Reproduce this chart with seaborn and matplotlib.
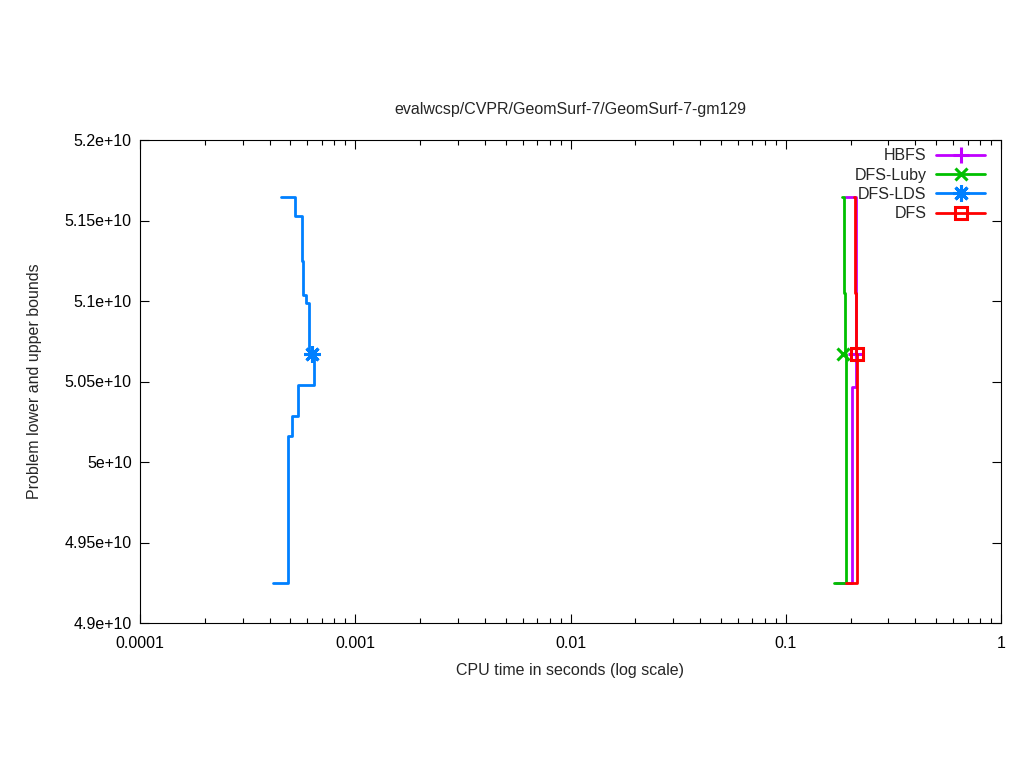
import numpy as np
import pandas as pd
import matplotlib
matplotlib.use("Agg")
import matplotlib.pyplot as plt
from matplotlib.lines import Line2D
from matplotlib.ticker import FixedLocator, LogLocator, NullFormatter
import seaborn as sns

# Data (time in seconds, bounds)
hbfs_up_t = [0.1892, 0.2121]
hbfs_up_v = [5.1645e10, 5.0671e10]
hbfs_lo_t = [0.1712, 0.2032, 0.2121]
hbfs_lo_v = [4.9247e10, 5.0463e10, 5.0671e10]
hbfs_opt = (0.2121, 5.0671e10)

luby_up_t = [0.1826, 0.1865, 0.1892]
luby_up_v = [5.1645e10, 5.1048e10, 5.0671e10]
luby_lo_t = [0.1676, 0.1906]
luby_lo_v = [4.9247e10, 5.0671e10]
luby_opt = (0.1851, 5.0671e10)

lds_up_t = [4.52e-4, 5.25e-4, 5.64e-4, 5.74e-4, 5.91e-4, 6.12e-4]
lds_up_v = [5.1645e10, 5.153e10, 5.1248e10, 5.1037e10, 5.0989e10, 5.0673e10]
lds_lo_t = [4.16e-4, 4.87e-4, 5.10e-4, 5.44e-4, 6.45e-4]
lds_lo_v = [4.9247e10, 5.0161e10, 5.0286e10, 5.0478e10, 5.0673e10]
lds_opt = (6.28e-4, 5.0673e10)

dfs_up_t = [0.2085, 0.2091, 0.2121]
dfs_up_v = [5.1645e10, 5.1048e10, 5.0671e10]
dfs_lo_t = [0.1906, 0.2150]
dfs_lo_v = [4.9247e10, 5.0671e10]
dfs_opt = (0.2136, 5.0671e10)

x_ticks = [0.0001, 0.001, 0.01, 0.1, 1]
x_labels = ["0.0001", "0.001", "0.01", "0.1", "1"]
y_ticks = [4.9e10, 4.95e10, 5.0e10, 5.05e10, 5.1e10, 5.15e10, 5.2e10]
y_labels = ["4.9e+10", "4.95e+10", "5e+10", "5.05e+10", "5.1e+10", "5.15e+10", "5.2e+10"]

sns.set_style("white")
plt.rcParams['font.family'] = ['Liberation Sans', 'DejaVu Sans']
FS = 11.5
plt.rcParams['font.size'] = FS

fig = plt.figure(figsize=(10.24, 7.68), dpi=100)
ax = fig.add_axes([140 / 1024, 1 - 623 / 768, 861 / 1024, 483 / 768])

series = [
    ("HBFS", "#C000FF", "+", dict(ms=11), hbfs_up_t, hbfs_up_v, hbfs_lo_t, hbfs_lo_v, hbfs_opt),
    ("DFS-Luby", "#00C000", "x", dict(ms=9), luby_up_t, luby_up_v, luby_lo_t, luby_lo_v, luby_opt),
    ("DFS-LDS", "#0080FF", (8, 2, 0), dict(ms=12), lds_up_t, lds_up_v, lds_lo_t, lds_lo_v, lds_opt),
    ("DFS", "#FF0000", "s", dict(ms=8, markerfacecolor="none"), dfs_up_t, dfs_up_v, dfs_lo_t, dfs_lo_v, dfs_opt),
]

handles = []
for name, col, mk, mkw, ut, uv, lt, lv, opt in series:
    up = pd.DataFrame({"t": ut, "v": uv})
    lo = pd.DataFrame({"t": lt, "v": lv})
    sns.lineplot(data=up, x="t", y="v", ax=ax, color=col, lw=2, drawstyle="steps-post",
                 estimator=None, sort=False, legend=False)
    sns.lineplot(data=lo, x="t", y="v", ax=ax, color=col, lw=2, drawstyle="steps-post",
                 estimator=None, sort=False, legend=False)
    ax.plot([opt[0]], [opt[1]], marker=mk, color=col, mew=2.2, linestyle="none", **mkw)
    handles.append(Line2D([], [], color=col, lw=2, marker=mk, mew=2.2, **mkw))

ax.set_xscale("log")
ax.set_xlim(0.0001, 1)
ax.set_ylim(4.9e10, 5.2e10)
ax.xaxis.set_major_locator(FixedLocator(x_ticks))
ax.set_xticklabels(x_labels)
ax.xaxis.set_minor_locator(LogLocator(base=10, subs=np.arange(2, 10)))
ax.xaxis.set_minor_formatter(NullFormatter())
ax.set_yticks(y_ticks)
ax.set_yticklabels(y_labels)

ax.tick_params(which="both", direction="in", top=True, right=True, bottom=True, left=True,
               colors="black", labelsize=FS)
ax.tick_params(which="major", length=6.5, width=0.8)
ax.tick_params(axis="x", which="major", pad=9)
ax.tick_params(axis="y", which="major", pad=6)
ax.tick_params(which="minor", length=3.3, width=0.8)
for s in ax.spines.values():
    s.set_color("black")
    s.set_linewidth(0.8)

ax.set_xlabel("CPU time in seconds (log scale)", fontsize=FS, labelpad=9)
ax.set_ylabel("Problem lower and upper bounds", fontsize=FS, labelpad=16)
ax.set_title("evalwcsp/CVPR/GeomSurf-7/GeomSurf-7-gm129", fontsize=FS, pad=19)

ax.legend(handles, [s[0] for s in series], loc="upper right", bbox_to_anchor=(0.9889, 0.996),
          frameon=False, markerfirst=False, handlelength=3.06, numpoints=1, fontsize=FS,
          labelspacing=0.27, borderaxespad=0, borderpad=0.4, handletextpad=0.62)

fig.savefig("out.png", dpi=100)
